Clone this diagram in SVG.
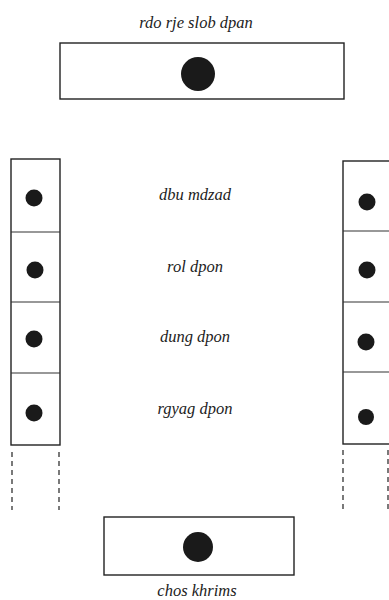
<svg xmlns="http://www.w3.org/2000/svg" width="389" height="600" viewBox="0 0 389 600">
<style>
.box{fill:none;stroke:#222;stroke-width:1.4}
.div{stroke:#333;stroke-width:1.2}
.dot{fill:#1a1a1a}
.dash{stroke:#333;stroke-width:1.3;stroke-dasharray:5 4;fill:none}
.lbl{font-family:"Liberation Serif",serif;font-style:italic;font-size:16.5px;fill:#222;text-anchor:middle}
</style>
<rect width="389" height="600" fill="#fff"/>
<g id="top">
<text class="lbl" x="196" y="28">rdo rje slob dpan</text>
<rect class="box" x="60" y="43" width="284" height="56"/>
<circle class="dot" cx="198" cy="74" r="17"/>
</g>
<g id="left-column">
<rect class="box" x="11" y="159" width="49" height="286"/>
<line class="div" x1="11" y1="232" x2="60" y2="232"/>
<line class="div" x1="11" y1="302" x2="60" y2="302"/>
<line class="div" x1="11" y1="373" x2="60" y2="373"/>
<circle class="dot" cx="34" cy="198" r="8.5"/>
<circle class="dot" cx="35" cy="270" r="8.5"/>
<circle class="dot" cx="34" cy="339" r="8.5"/>
<circle class="dot" cx="34" cy="413" r="8.5"/>
<line class="dash" x1="12" y1="452" x2="12" y2="510"/>
<line class="dash" x1="59" y1="452" x2="59" y2="510"/>
</g>
<g id="right-column">
<rect class="box" x="343" y="161" width="50" height="283"/>
<line class="div" x1="343" y1="231" x2="393" y2="231"/>
<line class="div" x1="343" y1="302" x2="393" y2="302"/>
<line class="div" x1="343" y1="372" x2="393" y2="372"/>
<circle class="dot" cx="367" cy="202" r="8.5"/>
<circle class="dot" cx="367" cy="270" r="8.5"/>
<circle class="dot" cx="366" cy="342" r="8.5"/>
<circle class="dot" cx="366" cy="417" r="8"/>
<line class="dash" x1="343" y1="450" x2="343" y2="510"/>
<line class="dash" x1="388" y1="450" x2="388" y2="510"/>
</g>
<g id="labels">
<text class="lbl" x="195" y="200">dbu mdzad</text>
<text class="lbl" x="195" y="272">rol dpon</text>
<text class="lbl" x="195" y="342">dung dpon</text>
<text class="lbl" x="195" y="414">rgyag dpon</text>
</g>
<g id="bottom">
<rect class="box" x="104" y="517" width="190" height="58"/>
<circle class="dot" cx="198" cy="547" r="15"/>
<text class="lbl" x="197" y="596">chos khrims</text>
</g>
<g id="connectors"></g>
</svg>
